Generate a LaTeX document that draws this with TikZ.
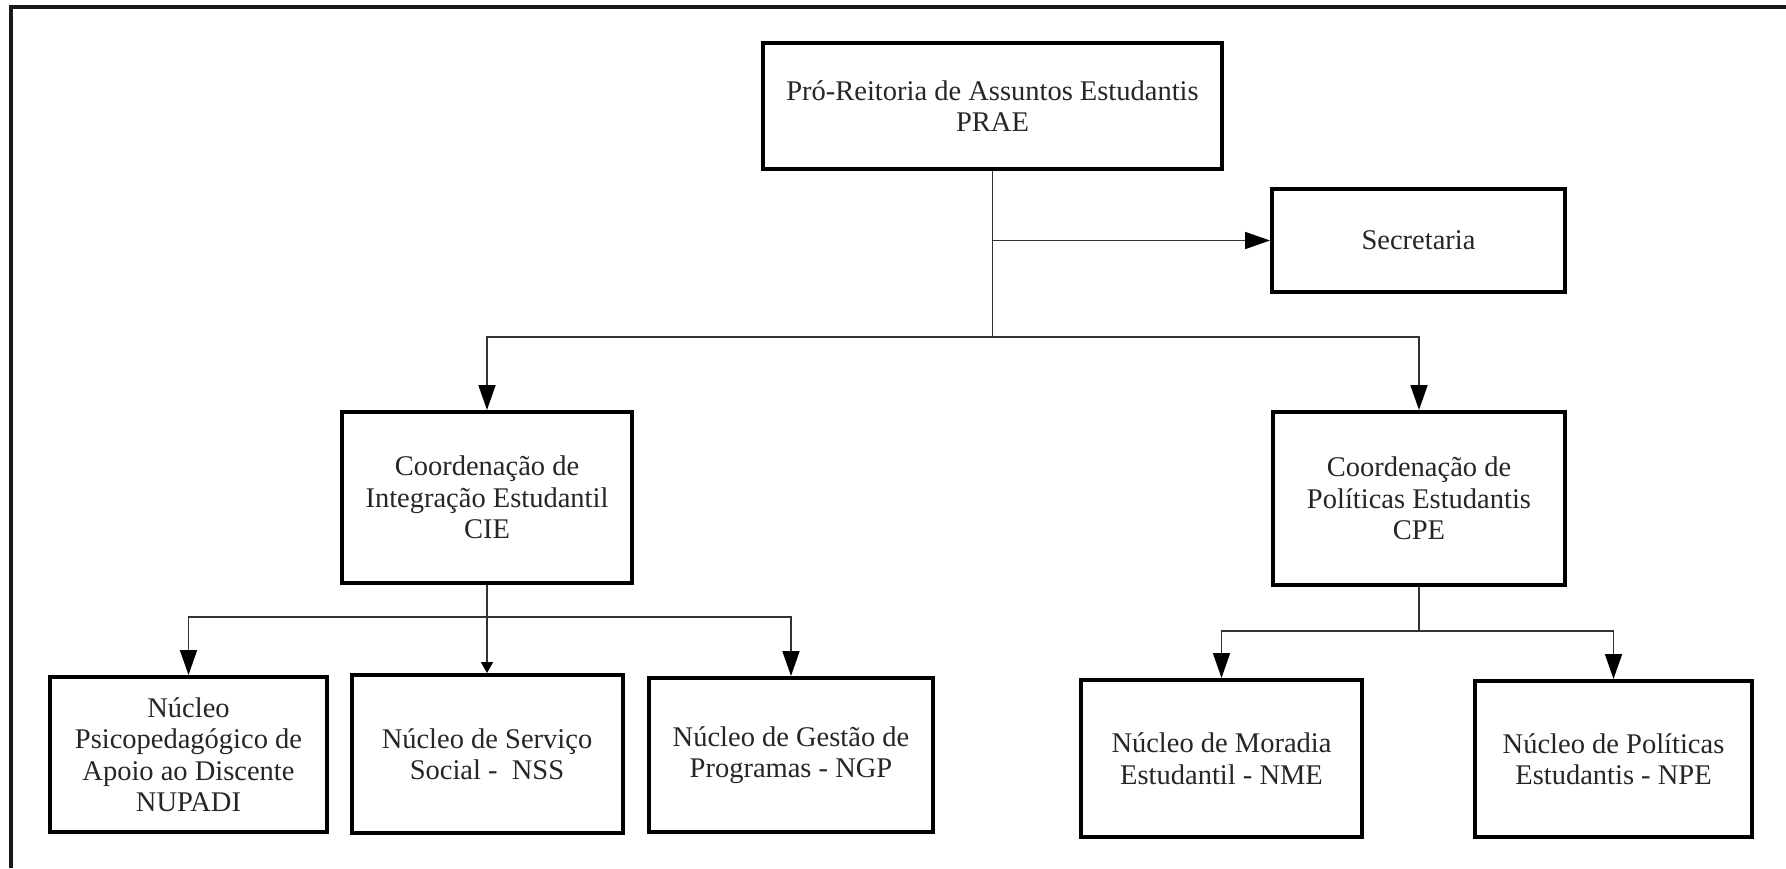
\documentclass[tikz,border=0pt]{standalone}
\usepackage{fontspec}
\setmainfont{Liberation Serif}
\usetikzlibrary{arrows.meta}
\begin{document}
\begin{tikzpicture}[x=1pt,y=-1pt,
  box/.style={draw=black,line width=4pt,rectangle,align=center,inner sep=0pt,
    font=\fontsize{28.5}{31.5}\selectfont,text=black!85},
  conn/.style={draw=black!80,line width=1.8pt},
  arr/.style={conn,-{Triangle[length=25pt,width=17pt,color=black]}},
  sarr/.style={conn,-{Triangle[length=11pt,width=12pt,color=black]}}]
\useasboundingbox (0,0) rectangle (1786,868);
\fill[white] (0,0) rectangle (1786,868);
\draw[line width=4pt,black!90] (10.5,868) -- (10.5,7) -- (1786,7);

\node[box,minimum width=459pt,minimum height=126pt] (prae) at (992.5,106) {Pró-Reitoria de Assuntos Estudantis\\PRAE};
\node[box,minimum width=293pt,minimum height=103pt] (sec) at (1418.5,240.5) {Secretaria};
\node[box,minimum width=290pt,minimum height=171pt] (cie) at (487,497.5) {Coordenação de\\Integração Estudantil\\CIE};
\node[box,minimum width=292pt,minimum height=173pt] (cpe) at (1419,498.5) {Coordenação de\\Políticas Estudantis\\CPE};
\node[box,minimum width=277pt,minimum height=155pt] (nupadi) at (188.5,754.5) {Núcleo\\Psicopedagógico de\\Apoio ao Discente\\NUPADI};
\node[box,minimum width=271pt,minimum height=158pt] (nss) at (487,754) {Núcleo de Serviço\\Social -\ \ NSS};
\node[box,minimum width=284pt,minimum height=154pt] (ngp) at (791,755) {Núcleo de Gestão de\\Programas - NGP};
\node[box,minimum width=281pt,minimum height=157pt] (nme) at (1221.5,758.5) {Núcleo de Moradia\\Estudantil - NME};
\node[box,minimum width=277pt,minimum height=156pt] (npe) at (1613.5,759) {Núcleo de Políticas\\Estudantis - NPE};

\coordinate (j1) at (992.5,337);
\coordinate (j2) at (487,617);
\coordinate (j3) at (1419,631);

\draw[conn] (prae.south) -- (j1);
\draw[arr] (prae.south |- sec.west) -- (sec.west);
\draw[arr] (j1) -| (cie.north);
\draw[arr] (j1) -| (cpe.north);

\draw[sarr] (cie.south) -- (nss.north);
\draw[arr] (j2) -| (nupadi.north);
\draw[arr] (j2) -| (ngp.north);

\draw[conn] (cpe.south) -- (j3);
\draw[arr] (j3) -| (nme.north);
\draw[arr] (j3) -| (npe.north);
\end{tikzpicture}
\end{document}
